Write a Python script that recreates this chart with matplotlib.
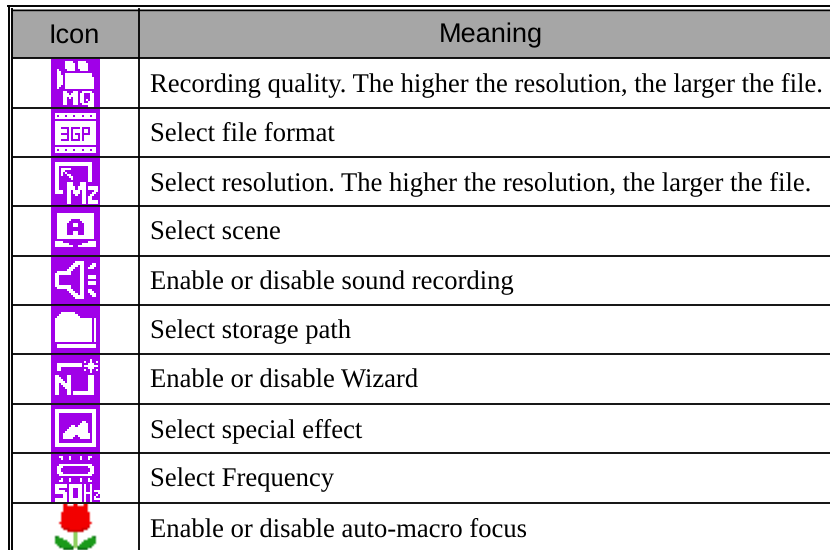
import numpy as np
import matplotlib
matplotlib.use("Agg")
import matplotlib.pyplot as plt
from matplotlib.colors import to_rgb

plt.rcParams["text.hinting"] = "no_hinting"

header = ["Icon", "Meaning"]
meanings = [
    "Recording quality. The higher the resolution, the larger the file.",
    "Select file format",
    "Select resolution. The higher the resolution, the larger the file.",
    "Select scene",
    "Enable or disable sound recording",
    "Select storage path",
    "Enable or disable Wizard",
    "Select special effect",
    "Select Frequency",
    "Enable or disable auto-macro focus",
]

# icons as small bitmaps: # white, . purple, space white paper
icon_mq = [
    "........................",
    ".......####..####.......",
    ".......#####.#####......",
    ".......#####.#####......",
    ".......#####.#####......",
    "...#....####..####......",
    "...##...................",
    "...##..#############....",
    "...###.#############....",
    "...###.##############...",
    "...###.##############...",
    "...###.##############...",
    "...###.##############...",
    "...##..##############...",
    "...#...##############...",
    "........................",
    "......##...##..#####....",
    "......###.###.##...##...",
    "......#######.##...##...",
    "......##.#.##.##...##...",
    "......##...##.##.#.##...",
    "......##...##.##..###...",
    "......##...##..######...",
    "..................###...",
]
icon_3gp = [
    "........................",
    "........................",
    "..####################..",
    "..#.###.###.###.###.##..",
    "..####################..",
    "........................",
    "..####################..",
    "..####################..",
    "..####################..",
    "..###....#....#....###..",
    "..######.#.####.##.###..",
    "..######.#.####.##.###..",
    "..###....#.#..#....###..",
    "..######.#.##.#.######..",
    "..######.#.##.#.######..",
    "..###....#....#.######..",
    "..####################..",
    "..####################..",
    "........................",
    "..####################..",
    "..#.###.###.###.###.##..",
    "..####################..",
    "........................",
    "........................",
]
icon_mz = [
    "........................",
    "........................",
    "..##################....",
    "..##################....",
    "..##..............##....",
    "..##.#####........##....",
    "..##.##...........##....",
    "..##.#.#..........##....",
    "..##.#..##........##....",
    "..##.....##.......##....",
    "..##......#.......##....",
    "..##..............##....",
    "..##....###...###.......",
    "..##....###...###.......",
    "..##....####.####.#####.",
    "..##....####.####.#####.",
    "..####..##.###.##....##.",
    "..####..##.###.##...##..",
    "........##..#..##..##...",
    "........##.....##.##....",
    "........##.....##.##....",
    "........##.....##.#####.",
    "........##.....##.#####.",
    "........................",
]
icon_scene = [
    "........................",
    "........................",
    "........................",
    "...##################...",
    "...##################...",
    "...##################...",
    "...#######....#######...",
    "...######......######...",
    "...#####...##...#####...",
    "...#####...##...#####...",
    "...#####........#####...",
    "...#####........#####...",
    "...#####...##...#####...",
    "...#####...##...#####...",
    "...##################...",
    "...##################...",
    "........................",
    "..####............####..",
    "..#######......#######..",
    "..#########..#########..",
    "........................",
    "........................",
    "........................",
    "........................",
]
icon_sound = [
    "........................",
    "........................",
    "............####........",
    "...........#####....##..",
    "..........###.##...###..",
    ".........###..##..###...",
    "........###...##........",
    "...#######....##........",
    "..########....##........",
    "..##..........##..####..",
    "..##..........##..####..",
    "..##..........##........",
    "..##..........##..####..",
    "..##..........##..####..",
    "..########....##........",
    "...#######....##........",
    "........###...##..##....",
    ".........###..##..###...",
    "..........###.##...###..",
    "...........#####....##..",
    "............####........",
    "........................",
    "........................",
    "........................",
]
icon_folder = [
    "........................",
    "........................",
    "........................",
    ".....#######............",
    "....#########...........",
    "...###########..........",
    "..##################.#..",
    "..##################.#..",
    "..##################.#..",
    "..##################.#..",
    "..##################.#..",
    "..##################.#..",
    "..##################.#..",
    "..##################.#..",
    "..##################.#..",
    "..##################.#..",
    "..##################.#..",
    "..##################.#..",
    "........................",
    "...###################..",
    "...###################..",
    "........................",
    "........................",
    "........................",
]
icon_wizard = [
    "........................",
    "........................",
    "...................#....",
    "................#..#..#.",
    "...############...###...",
    "...############.#######.",
    "...##.............###...",
    "...##...........#..#..#.",
    "...................#....",
    "........................",
    "..##....##........###...",
    "..###...##........###...",
    "..####..##........###...",
    "..#####.##........###...",
    "..##.#####........###...",
    "..##..####........###...",
    "..##...###........###...",
    "..##....##........###...",
    "..##....##.##########...",
    "..##....##.##########...",
    "........................",
    "........................",
    "........................",
    "........................",
]
icon_effect = [
    "........................",
    "........................",
    "..####################..",
    "..####################..",
    "..##................##..",
    "..##................##..",
    "..##................##..",
    "..##................##..",
    "..##...........##...##..",
    "..##..........####..##..",
    "..##......##.#####..##..",
    "..##.....#########..##..",
    "..##....##########..##..",
    "..##...###########..##..",
    "..##..#############.##..",
    "..##..######.######.##..",
    "..##..#####...#####.##..",
    "..##................##..",
    "..##................##..",
    "..####################..",
    "..####################..",
    "........................",
    "........................",
    "........................",
]
icon_50hz = [
    "........................",
    "....##...#....#...##....",
    ".....#...#....#...#.....",
    "........................",
    "........................",
    "....################....",
    "...###............###...",
    "...##..............##...",
    "...##..............##...",
    "...###............###...",
    "....################....",
    "........................",
    ".....#...#....#...#.....",
    "....##...#....#...##....",
    "........................",
    "..######.######.#..#....",
    "..######.######.#..#....",
    "..##.....##..##.#..#....",
    "..#####..##..##.#..#.###",
    "..######.##..##.####...#",
    "......##.##..##.#..#..#.",
    "......##.##..##.#..#.#..",
    "..######.######.#..#.###",
    "..######.######.#..#....",
]
# tulip: R red, r dark red, G green, g dark green, L stem
icon_tulip = [
    "      RR   RR   RR      ",
    "      RRRRRRRRRRRR      ",
    "      RRRRRRRRRRRR      ",
    "      RRRRRRRRRRRR      ",
    "     RRRRRRRRRRRRRR     ",
    "     RRRRRRRRRRRRRR     ",
    "     RRRRRRRRRRRRRR     ",
    "     RRRRRRRRRRRRRR     ",
    "     RRRRRRRRRRRRRR     ",
    "    RRRRRRRRRRRRRRRR    ",
    "     RRRRRRRRRRRRRR     ",
    "     rRRRRRRRRRRRRr     ",
    "      rrrRRRRRRrrr      ",
    "        rrrrrrrr        ",
    "           LL           ",
    "           LL           ",
    "  gG       LL       Gg  ",
    "  GGGG     LL     GGGG  ",
    "  GGGGGG   LL   GGGGGG  ",
    "  GGGGGGG  LL  GGGGGGG  ",
    "   GGGGGGG LL GGGGGGG   ",
    "    gGGGGGgLLgGGGGGg    ",
    "      ggggg  ggggg      ",
    "                        ",
]
icons = [icon_mq, icon_3gp, icon_mz, icon_scene, icon_sound,
         icon_folder, icon_wizard, icon_effect, icon_50hz, icon_tulip]

colors = {
    "#": "#ffffff", ".": "#a000e8", " ": "#ffffff",
    "R": "#f20000", "r": "#c80000", "G": "#1a9a1a", "g": "#0b6b12", "L": "#8fd060",
}


def bitmap(rows):
    out = np.ones((len(rows), 24, 3))
    for i, row in enumerate(rows):
        for j, c in enumerate(row.ljust(24)[:24]):
            out[i, j] = to_rgb(colors[c])
    return out


row_lines = [58, 107.7, 156.7, 206, 256, 305, 354, 404, 453, 503]

fig = plt.figure(figsize=(8.3, 5.5), dpi=100)
ax = fig.add_axes([0, 0, 1, 1])

# header band and grid
ax.fill_between([12, 830], 9, 58, color="#a6a6a6", lw=0)
ax.plot([9, 9], [5.5, 550], color="k", lw=1.4, zorder=3)
ax.plot([12.2, 12.2], [9, 550], color="k", lw=1.4, zorder=3)
ax.plot([8, 830], [6, 6], color="k", lw=1.4, zorder=3)
ax.plot([12, 830], [9.5, 9.5], color="k", lw=1.0, zorder=3)
ax.plot([138.8, 138.8], [9, 550], color="k", lw=1.3, zorder=3)
ax.hlines(row_lines, 12, 830, color="k", lw=1.3, zorder=3)

ax.text(74.5, 35.5, header[0], family="Liberation Sans", fontsize=19.5, ha="center", va="center")
ax.text(491, 35.5, header[1], family="Liberation Sans", fontsize=19.5, ha="center", va="center")

for i, txt in enumerate(meanings):
    ax.text(150, row_lines[i] + 33.5, txt, family="Liberation Serif", fontsize=19.2, ha="left", va="baseline")
    top = int(round(row_lines[i])) + 1
    ax.imshow(bitmap(icons[i]), extent=(51, 99, top + 48, top),
              interpolation="bilinear" if i == 9 else "nearest", aspect="auto", zorder=2)

ax.set_xlim(0, 830)
ax.set_ylim(550, 0)
ax.axis("off")
fig.savefig("out.png", dpi=100)
